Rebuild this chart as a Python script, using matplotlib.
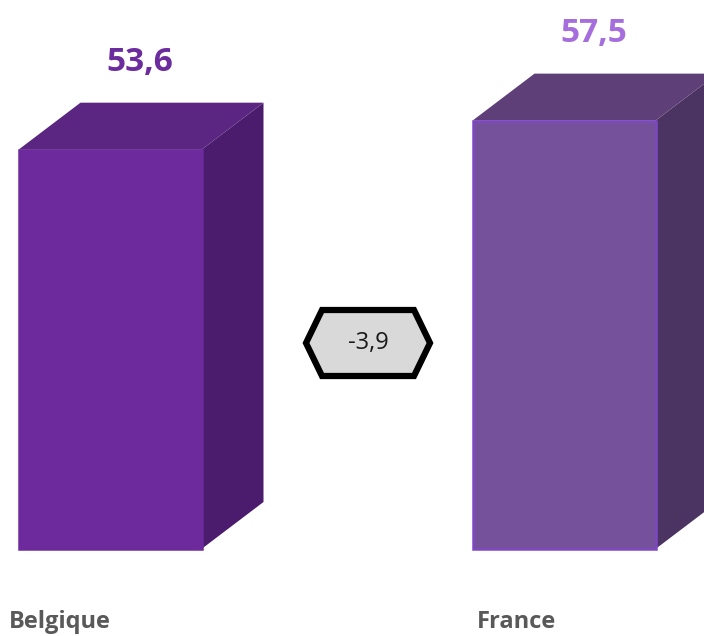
import matplotlib.pyplot as plt
from matplotlib.patches import Polygon

countries = ['Belgique', 'France']
values = [53.6, 57.5]
value_labels = ['53,6', '57,5']
diff_label = '-3,9'

# front / top / side colours of each box, plus outline and label colour
front_colors = ['#6D2A9C', '#74519A']
top_colors = ['#5A2681', '#5E3F78']
side_colors = ['#4B1C6D', '#4C3462']
edge_colors = ['#6D2A9C', '#7E48C2']
label_colors = ['#6B2C9E', '#A56EDC']

plt.rcParams['font.family'] = ['Open Sans', 'DejaVu Sans']

fig = plt.figure(figsize=(7.04, 6.36), dpi=100)
ax = fig.add_axes([0, 0, 1, 1])
ax.set_xlim(0, 704)
# 0 sits at y=549 px, 7.45 px per unit
scale = 7.45
ax.set_ylim(-87 / scale, 549 / scale)
ax.axis('off')

centers = [110, 564]
width = 183
dx = 62
dy = 47 / scale

for i, v in enumerate(values):
    x0 = centers[i] - width / 2
    x1 = centers[i] + width / 2
    # side face
    ax.add_patch(Polygon([(x1, 0), (x1 + dx, dy), (x1 + dx, v + dy), (x1, v)],
                         closed=True, facecolor=side_colors[i], edgecolor='none'))
    # top face
    ax.add_patch(Polygon([(x0, v), (x0 + dx, v + dy), (x1 + dx, v + dy), (x1, v)],
                         closed=True, facecolor=top_colors[i], edgecolor='none'))
    # front face
    ax.add_patch(Polygon([(x0, 0), (x1, 0), (x1, v), (x0, v)],
                         closed=True, facecolor=front_colors[i],
                         edgecolor=edge_colors[i], linewidth=1.8))
    ax.text(centers[i] + 30, v + dy + 40 / scale, value_labels[i],
            ha='center', va='center', fontsize=24, fontweight='bold',
            color=label_colors[i])
    ax.text(x0 - 10 if i == 0 else x0 + 4, -73 / scale, countries[i],
            ha='left', va='center', fontsize=17, fontweight='bold', color='#595959')

# hexagon with the gap between the two
cx, cy = 368, (549 - 343) / scale
hw, hh, cut = 62, 33 / scale, 16
hexa = [(cx - hw, cy), (cx - hw + cut, cy + hh), (cx + hw - cut, cy + hh),
        (cx + hw, cy), (cx + hw - cut, cy - hh), (cx - hw + cut, cy - hh)]
ax.add_patch(Polygon(hexa, closed=True, facecolor='#D9D9D9', edgecolor='black',
                     linewidth=4.5, joinstyle='miter'))
ax.text(cx, cy, diff_label, ha='center', va='center', fontsize=17, color='#1a1a1a')

fig.savefig('out.png', dpi=100)
